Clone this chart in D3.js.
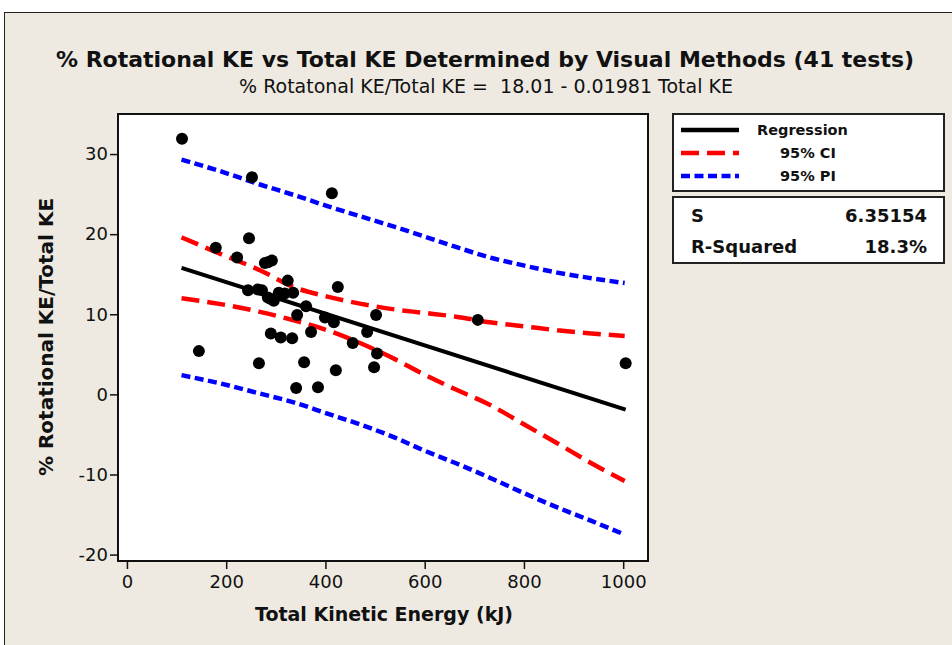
<!DOCTYPE html>
<html>
<head>
<meta charset="utf-8">
<script src="https://cdn.jsdelivr.net/npm/d3@7"></script>
<style>
  body { margin: 0; background: #fff; }
  svg { display: block; font-family: "DejaVu Sans", Verdana, sans-serif; }
</style>
</head>
<body>
<svg id="chart" width="952" height="645"></svg>
<script>
// total KE (kJ) and % rotational KE for the 41 tests
const totalKE = [111, 252, 413, 179, 246, 222, 278, 292, 324, 425,
  244, 264, 284, 296, 306, 335, 361, 343, 399, 417,
  502, 484, 290, 310, 333, 371, 455, 504, 498, 266,
  357, 421, 341, 385, 707, 145, 1005, 284, 290, 318, 272]
const rotPct = [31.9, 27.1, 25.1, 18.3, 19.5, 17.1, 16.4, 16.7, 14.2, 13.4,
  13.0, 13.1, 12.1, 11.7, 12.7, 12.7, 11.0, 9.9, 9.6, 9.0,
  9.9, 7.8, 7.6, 7.1, 7.0, 7.8, 6.4, 5.1, 3.4, 3.9,
  4.0, 3.0, 0.8, 0.9, 9.3, 5.4, 3.9, 16.5, 11.9, 12.6, 13.0]

// fitted line and bands
const regX = [110, 1005]
const regY = [15.8, -1.9]
const bandX = [110, 186, 268, 336, 404, 472, 540, 595, 663, 731, 799, 867, 936, 1003]
const ciUpper = [19.6, 17.6, 15.5, 13.4, 12.2, 11.3, 10.6, 10.2, 9.7, 9.0, 8.5, 8.0, 7.6, 7.3]
const ciLower = [12.0, 11.3, 10.3, 9.25, 8.0, 6.35, 4.4, 2.6, 0.6, -1.3, -3.7, -6.1, -8.6, -10.8]
const piUpper = [29.3, 27.9, 26.2, 24.9, 23.5, 22.2, 20.9, 19.8, 18.4, 17.1, 16.1, 15.2, 14.5, 13.9]
const piLower = [2.4, 1.4, 0.1, -1.0, -2.4, -3.8, -5.4, -6.9, -8.6, -10.4, -12.3, -14.1, -15.8, -17.5]

const xTicks = [0, 200, 400, 600, 800, 1000]
const yTicks = [-20, -10, 0, 10, 20, 30]

const legendItems = [
  {label: "Regression", color: "#000", dash: null, indent: 0},
  {label: "95% CI", color: "#ff0000", dash: "18,8", indent: 23},
  {label: "95% PI", color: "#0000ff", dash: "9,4.5", indent: 23}
]
const stats = [["S", "6.35154"], ["R-Squared", "18.3%"]]

const svg = d3.select("#chart")

// frame background
svg.append("rect").attr("x", 4.5).attr("y", 12.5).attr("width", 960).attr("height", 650)
  .attr("fill", "#eeeae1").attr("stroke", "#222").attr("stroke-width", 1)

const plot = {left: 118, top: 114, right: 648, bottom: 561}

const x = d3.scaleLinear().domain([-18, 1050]).range([plot.left, plot.right])
const y = d3.scaleLinear().domain([-20.8, 35]).range([plot.bottom, plot.top])

svg.append("rect")
  .attr("x", plot.left).attr("y", plot.top)
  .attr("width", plot.right - plot.left).attr("height", plot.bottom - plot.top)
  .attr("fill", "#fff").attr("stroke", "#111").attr("stroke-width", 2)

// axes
const plain = d => String(d)
const xAxis = svg.append("g")
  .attr("transform", `translate(0,${plot.bottom + 1})`)
  .call(d3.axisBottom(x).tickValues(xTicks).tickFormat(plain).tickSizeOuter(0).tickSize(7).tickPadding(6))
const yAxis = svg.append("g")
  .attr("transform", `translate(${plot.left - 1},0)`)
  .call(d3.axisLeft(y).tickValues(yTicks).tickFormat(plain).tickSizeOuter(0).tickSize(7).tickPadding(2))

for (const ax of [xAxis, yAxis]) {
  ax.select(".domain").remove()
  ax.selectAll(".tick line").attr("stroke", "#111").attr("stroke-width", 1.5)
  ax.selectAll(".tick text")
    .attr("fill", "#111")
    .style("font-family", "'DejaVu Sans', sans-serif")
    .style("font-size", "18px")
}

const body = svg.append("g")

const band = (ys) => d3.line()
  .x((d, i) => x(bandX[i]))
  .y(d => y(d))
  .curve(d3.curveMonotoneX)(ys)

body.append("path").attr("d", band(piUpper))
  .attr("fill", "none").attr("stroke", "#0000ff").attr("stroke-width", 4.5).attr("stroke-dasharray", "9,4.5")
body.append("path").attr("d", band(piLower))
  .attr("fill", "none").attr("stroke", "#0000ff").attr("stroke-width", 4.5).attr("stroke-dasharray", "9,4.5")
body.append("path").attr("d", band(ciUpper))
  .attr("fill", "none").attr("stroke", "#ff0000").attr("stroke-width", 4.5).attr("stroke-dasharray", "18,8")
body.append("path").attr("d", band(ciLower))
  .attr("fill", "none").attr("stroke", "#ff0000").attr("stroke-width", 4.5).attr("stroke-dasharray", "18,8")

body.append("path")
  .attr("d", d3.line().x((d, i) => x(regX[i])).y(d => y(d))(regY))
  .attr("fill", "none").attr("stroke", "#000").attr("stroke-width", 4)

body.selectAll("circle")
  .data(totalKE.map((k, i) => [k, rotPct[i]]))
  .join("circle")
  .attr("cx", d => x(d[0]))
  .attr("cy", d => y(d[1]))
  .attr("r", 6)
  .attr("fill", "#000")

// titles
svg.append("text").attr("x", 485).attr("y", 67).attr("text-anchor", "middle")
  .style("font-size", "22px").style("font-weight", "bold").attr("fill", "#111")
  .text("% Rotational KE vs Total KE Determined by Visual Methods (41 tests)")
svg.append("text").attr("x", 486).attr("y", 93).attr("text-anchor", "middle")
  .style("font-size", "19px").style("white-space", "pre").attr("fill", "#111")
  .text("% Rotatonal KE/Total KE =  18.01 - 0.01981 Total KE")

svg.append("text").attr("x", 384).attr("y", 621).attr("text-anchor", "middle")
  .style("font-size", "19px").style("font-weight", "bold").attr("fill", "#111")
  .text("Total Kinetic Energy (kJ)")
svg.append("text").attr("transform", "translate(53,337) rotate(-90)").attr("text-anchor", "middle")
  .style("font-size", "20px").style("font-weight", "bold").attr("fill", "#111")
  .text("% Rotational KE/Total KE")

// legend
const leg = svg.append("g")
leg.append("rect").attr("x", 673).attr("y", 114).attr("width", 271).attr("height", 77)
  .attr("fill", "#fff").attr("stroke", "#222").attr("stroke-width", 2)
leg.selectAll("g.item")
  .data(legendItems)
  .join("g")
  .attr("class", "item")
  .attr("transform", (d, i) => `translate(0,${130 + i * 23})`)
  .each(function (d) {
    const g = d3.select(this)
    g.append("line").attr("x1", 681).attr("x2", 739).attr("y1", 0).attr("y2", 0)
      .attr("stroke", d.color).attr("stroke-width", 4.5)
      .attr("stroke-dasharray", d.dash)
    g.append("text").attr("x", 757 + d.indent).attr("y", 5)
      .style("font-size", "14.5px").style("font-weight", "bold").attr("fill", "#111")
      .text(d.label)
  })

leg.append("rect").attr("x", 673).attr("y", 197).attr("width", 271).attr("height", 66)
  .attr("fill", "#fff").attr("stroke", "#222").attr("stroke-width", 2)
leg.selectAll("g.stat")
  .data(stats)
  .join("g")
  .attr("class", "stat")
  .attr("transform", (d, i) => `translate(0,${222 + i * 31})`)
  .each(function (d) {
    const g = d3.select(this)
    g.append("text").attr("x", 691).attr("y", 0)
      .style("font-size", "18px").style("font-weight", "bold").attr("fill", "#111").text(d[0])
    g.append("text").attr("x", 927).attr("y", 0).attr("text-anchor", "end")
      .style("font-size", "18px").style("font-weight", "bold").attr("fill", "#111").text(d[1])
  })
</script>
</body>
</html>
